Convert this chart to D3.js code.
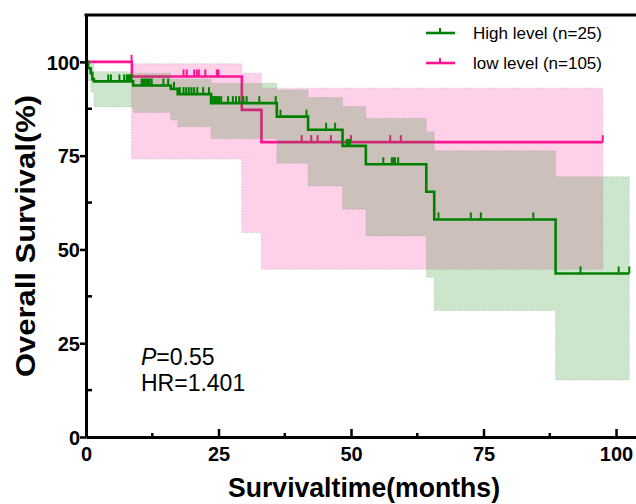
<!DOCTYPE html>
<html>
<head>
<meta charset="utf-8">
<script src="https://cdn.jsdelivr.net/npm/d3@7"></script>
<style>
body{margin:0;background:#fff;}
svg{display:block;font-family:Arial,"Liberation Sans",sans-serif;}
</style>
</head>
<body>
<div id="chart"></div>
<script>
// High level group (green): survival steps, censor marks, 95% CI band
var highStepTimes=[0,0.4,0.9,1.2,1.5,8.9,16.0,17.3,23.6,36.0,41.9,48.4,52.8,64.2,65.7,88.6];
var highStepSurv=[100,98.3,97.0,95.4,94.8,93.7,92.8,91.4,89.0,85.4,81.9,77.6,72.7,65.4,58.0,43.6];
var highEnd=102.5;
var highCensor=[4.2,4.7,6.3,7.2,7.7,8.0,8.3,8.6,
	10.5,10.8,11.1,11.4,11.7,12.0,12.4,14.6,15.5,16.6,
	17.7,18.4,18.9,19.4,19.9,20.4,21.0,22.1,23.2,
	23.9,24.2,24.5,24.8,25.1,25.5,26.8,27.7,28.3,28.9,29.7,30.3,32.7,35.8,
	36.7,41.6,45.3,47.0,49.2,49.5,49.8,56.1,57.7,58.0,58.3,58.9,
	66.5,72.6,74.5,84.4,93.3,100.5,102.5];
var highBandTimes=[0,0.4,0.9,1.5,8.9,16.0,17.3,23.6,36.0,41.9,48.4,52.8,64.2,65.7,88.6];
var highBandUpper=[100,100,99.5,97.4,97.0,95.4,95.4,94.3,92.5,90.5,88.1,85.0,81.4,76.3,69.4];
var highBandLower=[100,95,92,88,86.5,84.5,82.7,79.5,73.0,66.9,60.7,53.6,42.6,33.7,15.2];

// Low level group (pink)
var lowStepTimes=[0,8.65,29.4,33.1];
var lowStepSurv=[100,96.1,87.2,78.6];
var lowEnd=97.5;
var lowCensor=[8.6,18.4,19.0,20.4,20.9,21.3,22.5,24.7,25.0,
	40.7,42.5,43.7,46.2,50.0,57.4,59.4,97.5];
var lowBandTimes=[8.6,29.4,33.1];
var lowBandUpper=[99.5,97.0,93.0];
var lowBandLower=[74.1,54.5,44.7];

var xTicks=[0,25,50,75,100];
var yTicks=[0,25,50,75,100];
var minorTicks=[12.5,37.5,62.5,87.5];
var legendLabels=["High level (n=25)","low level (n=105)"];
var statLines=["=0.55","HR=1.401"];

var green="#008000";
var pink="#ff1493";

var width=636,height=504;
var x=d3.scaleLinear().domain([0,103.77]).range([86,636]);
var y=d3.scaleLinear().domain([0,112.5]).range([437,15]);

var svg=d3.select("#chart").append("svg").attr("width",width).attr("height",height);

function stepPoints(times,vals,end){
	var pts=times.map(function(t,i){return [t,vals[i]];});
	pts.push([end,vals[vals.length-1]]);
	return pts;
}
function bandPoints(times,up,lo,end){
	var pts=times.map(function(t,i){return {t:t,hi:up[i],lo:lo[i]};});
	pts.push({t:end,hi:up[up.length-1],lo:lo[lo.length-1]});
	return pts;
}
function levelAt(times,vals,t){
	var v=vals[0];
	for(var i=0;i<times.length;i++){ if(times[i]<=t) v=vals[i]; }
	return v;
}

var line=d3.line().curve(d3.curveStepAfter)
	.x(function(d){return x(d[0]);})
	.y(function(d){return y(d[1]);});
var area=d3.area().curve(d3.curveStepAfter)
	.x(function(d){return x(d.t);})
	.y0(function(d){return y(d.lo);})
	.y1(function(d){return y(d.hi);});

function drawBand(times,up,lo,end,color){
	svg.append("path")
		.datum(bandPoints(times,up,lo,end))
		.attr("d",area)
		.attr("fill",color)
		.attr("fill-opacity",0.2)
		.attr("stroke","#999")
		.attr("stroke-opacity",0.6)
		.attr("stroke-width",0.8)
		.attr("stroke-dasharray","1.2,1.8");
}
function drawCurve(times,vals,end,censor,color){
	svg.append("path")
		.datum(stepPoints(times,vals,end))
		.attr("d",line)
		.attr("fill","none")
		.attr("stroke",color)
		.attr("stroke-width",2.6);
	svg.append("g").selectAll("line")
		.data(censor)
		.enter()
		.append("line")
		.attr("x1",function(d){return x(d);})
		.attr("x2",function(d){return x(d);})
		.attr("y1",function(d){return y(levelAt(times,vals,d));})
		.attr("y2",function(d){return y(levelAt(times,vals,d))-7;})
		.attr("stroke",color)
		.attr("stroke-width",2);
}

// pink first, green band laid over it
drawBand(lowBandTimes,lowBandUpper,lowBandLower,lowEnd,pink);
drawCurve(lowStepTimes,lowStepSurv,lowEnd,lowCensor,pink);
drawBand(highBandTimes,highBandUpper,highBandLower,highEnd,green);
drawCurve(highStepTimes,highStepSurv,highEnd,highCensor,green);

// axes
var xAxis=svg.append("g").attr("transform","translate(0,437)")
	.call(d3.axisBottom(x).tickValues(xTicks).tickSize(-8).tickSizeOuter(0).tickPadding(10));
var yAxis=svg.append("g").attr("transform","translate(86,0)")
	.call(d3.axisLeft(y).tickValues(yTicks).tickSize(6).tickSizeOuter(0).tickPadding(0));
[xAxis,yAxis].forEach(function(g){
	g.select(".domain").attr("stroke","#000").attr("stroke-width",3);
	g.selectAll(".tick line").attr("stroke","#000").attr("stroke-width",2.5);
	g.selectAll(".tick text").attr("fill","#000").attr("font-size",20).attr("font-weight","bold")
		.attr("font-family","Arial,'Liberation Sans',sans-serif");
});
yAxis.selectAll(".tick text").attr("dy","0.36em");

// top frame line
svg.append("line").attr("x1",x(0)-1.5).attr("x2",width).attr("y1",y(112.5)).attr("y2",y(112.5))
	.attr("stroke","#000").attr("stroke-width",3);

// minor ticks (inward)
svg.append("g").selectAll("line").data(minorTicks).enter().append("line")
	.attr("x1",function(d){return x(d);}).attr("x2",function(d){return x(d);})
	.attr("y1",437).attr("y2",433)
	.attr("stroke","#000").attr("stroke-width",2.5);
svg.append("g").selectAll("line").data(minorTicks).enter().append("line")
	.attr("x1",86).attr("x2",92)
	.attr("y1",function(d){return y(d);}).attr("y2",function(d){return y(d);})
	.attr("stroke","#000").attr("stroke-width",2.5);

// axis titles
svg.append("text")
	.attr("x",364).attr("y",497)
	.attr("text-anchor","middle")
	.attr("font-size",28).attr("font-weight","bold")
	.attr("textLength",272).attr("lengthAdjust","spacingAndGlyphs")
	.text("Survivaltime(months)");
svg.append("text")
	.attr("transform","translate(35,236) rotate(-90)")
	.attr("text-anchor","middle")
	.attr("font-size",28).attr("font-weight","bold")
	.attr("textLength",282).attr("lengthAdjust","spacingAndGlyphs")
	.text("Overall Survival(%)");

// legend
var legendColors=[green,pink];
var legend=svg.append("g").selectAll("g").data(legendLabels).enter().append("g")
	.attr("transform",function(d,i){return "translate(0,"+(33+i*30)+")";});
legend.append("line").attr("x1",426).attr("x2",455).attr("y1",0).attr("y2",0)
	.attr("stroke",function(d,i){return legendColors[i];}).attr("stroke-width",2.6);
legend.append("line").attr("x1",440).attr("x2",440).attr("y1",0).attr("y2",-5)
	.attr("stroke",function(d,i){return legendColors[i];}).attr("stroke-width",2);
legend.append("text").attr("x",473).attr("y",6)
	.attr("font-size",17).attr("fill","#000")
	.text(function(d){return d;});

// statistics
var stat=svg.append("text").attr("x",141).attr("y",365).attr("font-size",23);
stat.append("tspan").attr("font-style","italic").text("P");
stat.append("tspan").text(statLines[0]);
svg.append("text").attr("x",141).attr("y",391).attr("font-size",23).text(statLines[1]);
</script>
</body>
</html>
